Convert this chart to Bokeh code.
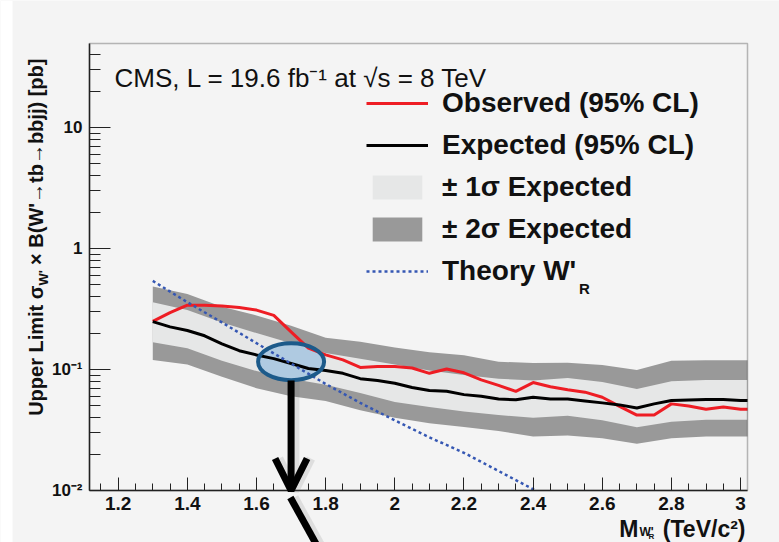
import math
from bokeh.plotting import figure
from bokeh.models import (Range1d, FixedTicker, CustomJSTickFormatter, Legend, LegendItem,
                          Label, Arrow, OpenHead, BoxAnnotation)
from bokeh.embed import file_html
from bokeh.resources import INLINE

# ---------------- data ----------------
mass = [1.30, 1.35, 1.40, 1.45, 1.50, 1.55, 1.60, 1.65, 1.70, 1.75, 1.80, 1.85, 1.90, 1.95,
        2.00, 2.05, 2.10, 2.15, 2.20, 2.25, 2.30, 2.35, 2.40, 2.45, 2.50, 2.55, 2.60, 2.65,
        2.70, 2.75, 2.80, 2.85, 2.90, 2.95, 3.00, 3.02]
observed = [0.25, 0.295, 0.34, 0.34, 0.335, 0.325, 0.31, 0.28, 0.205, 0.15, 0.132, 0.12, 0.104, 0.106,
            0.106, 0.103, 0.093, 0.101, 0.094, 0.082, 0.074, 0.066, 0.078, 0.072, 0.068, 0.065, 0.059, 0.0496,
            0.042, 0.042, 0.052, 0.050, 0.047, 0.049, 0.047, 0.047]
expected = [0.249, 0.225, 0.21, 0.19, 0.163, 0.143, 0.132, 0.123, 0.112, 0.102, 0.098, 0.093, 0.084, 0.081,
            0.077, 0.071, 0.067, 0.066, 0.062, 0.060, 0.057, 0.0562, 0.059, 0.057, 0.057, 0.055, 0.053, 0.051,
            0.048, 0.052, 0.0555, 0.056, 0.0565, 0.0565, 0.0555, 0.0555]

band_mass = [1.3, 1.4, 1.5, 1.6, 1.7, 1.8, 1.9, 2.0, 2.1, 2.2, 2.3, 2.4, 2.5, 2.6, 2.7, 2.8, 2.9, 3.0, 3.02]
exp_plus2 = [0.485, 0.42, 0.33, 0.28, 0.23, 0.183, 0.17, 0.152, 0.139, 0.131, 0.116, 0.113, 0.114, 0.109, 0.099, 0.118, 0.119, 0.119, 0.119]
exp_plus1 = [0.36, 0.31, 0.245, 0.20, 0.165, 0.137, 0.123, 0.11, 0.098, 0.09, 0.084, 0.081, 0.085, 0.079, 0.069, 0.08, 0.082, 0.082, 0.082]
exp_minus1 = [0.168, 0.15, 0.118, 0.097, 0.084, 0.075, 0.064, 0.054, 0.049, 0.045, 0.042, 0.040, 0.0415, 0.038, 0.0333, 0.037, 0.0385, 0.0385, 0.0385]
exp_minus2 = [0.12, 0.11, 0.087, 0.07, 0.06, 0.055, 0.046, 0.040, 0.036, 0.0335, 0.031, 0.028, 0.0285, 0.027, 0.0243, 0.027, 0.028, 0.028, 0.028]

theory_mass = [1.3, 1.4, 1.5, 1.6, 1.7, 1.8, 1.9, 2.0, 2.1, 2.2, 2.3, 2.41]
theory_xs = [0.54, 0.36, 0.245, 0.165, 0.112, 0.076, 0.053, 0.038, 0.0275, 0.0205, 0.0145, 0.0099]

x_major = [1.2, 1.4, 1.6, 1.8, 2.0, 2.2, 2.4, 2.6, 2.8, 3.0]
x_minor = [round(1.15 + 0.05 * i, 2) for i in range(38)]
y_major = [0.01, 0.1, 1, 10]
y_minor = [k * 10.0 ** e for e in range(-2, 2) for k in range(2, 10) if k * 10.0 ** e < 49.5]

# axis extent (ROOT frame) in data units
X_LO, X_HI = 1.117, 3.02
Y_LO, Y_HI = 0.01, 49.5

# annotation (ellipse + arrows) in data coordinates
mark_x, mark_y = 1.70, 0.116
arrow_y_start, arrow_y_end = 0.081, 0.01
lower_line = ([1.698, 1.78], [0.00875, 0.0033])

labels = {
    "cms": "CMS, L = 19.6 fb\u207b\u00b9 at \u221as = 8 TeV",
    "obs": "Observed (95% CL)",
    "exp": "Expected (95% CL)",
    "s1": "\u00b1 1\u03c3 Expected",
    "s2": "\u00b1 2\u03c3 Expected",
    "th": "Theory W'",
}

# ---------------- layout: bokeh frame = whole canvas, ROOT frame drawn inside ----------------
W, H = 779, 542
FL, FT, FR, FB = 89, 43, 747, 490   # ROOT frame in window pixels
FONT = "Liberation Sans"
BG = "#f4f4f4"
INK = "#111111"

sx = (X_HI - X_LO) / (FR - FL)
sy = (math.log10(Y_HI) - math.log10(Y_LO)) / (FB - FT)
x_range = Range1d(X_LO - FL * sx, X_HI + (W - FR) * sx)
y_range = Range1d(10 ** (math.log10(Y_LO) - (H - FB) * sy), 10 ** (math.log10(Y_HI) + FT * sy))

p = figure(width=W, height=H, y_axis_type="log", output_backend="svg", toolbar_location=None,
           x_range=x_range, y_range=y_range, min_border=0)
p.background_fill_color = BG
p.border_fill_color = BG
p.outline_line_color = None
p.xgrid.visible = False
p.ygrid.visible = False

# white strip at the left edge
p.add_layout(BoxAnnotation(left=0, right=12, left_units="screen", right_units="screen",
                           fill_color="white", fill_alpha=1, line_alpha=0, level="underlay"))

p.xaxis.ticker = FixedTicker(ticks=x_major, minor_ticks=x_minor)
p.yaxis.ticker = FixedTicker(ticks=y_major, minor_ticks=y_minor)
p.xaxis.formatter = CustomJSTickFormatter(code="return (Math.round(tick*10)/10).toString();")
p.yaxis.formatter = CustomJSTickFormatter(code="""
const e = Math.round(Math.log10(tick));
if (e == 0) return "1";
if (e == 1) return "10";
return e == -1 ? "10\u207b\u00b9" : "10\u207b\u00b2";
""")
p.xaxis.fixed_location = Y_LO
p.yaxis.fixed_location = X_LO
p.xaxis.bounds = (X_LO, X_HI)
p.yaxis.bounds = (Y_LO, Y_HI)
for ax in (p.xaxis, p.yaxis):
    ax.axis_line_color = "#222222"
    ax.axis_line_width = 1.5
    ax.major_tick_line_color = "#222222"
    ax.minor_tick_line_color = "#222222"
    ax.major_tick_out = 0
    ax.minor_tick_out = 0
    ax.major_label_text_font = FONT
    ax.major_label_text_font_style = "bold"
    ax.major_label_text_color = INK
p.xaxis.major_tick_in = 13
p.xaxis.minor_tick_in = 7
p.yaxis.major_tick_in = 21
p.yaxis.minor_tick_in = 11
p.xaxis.major_label_text_font_size = "19px"
p.yaxis.major_label_text_font_size = "17px"
p.xaxis.major_label_standoff = 6
p.yaxis.major_label_standoff = 7

# bands
r2 = p.varea(x=band_mass, y1=exp_minus2, y2=exp_plus2, fill_color="#999999")
r1 = p.varea(x=band_mass, y1=exp_minus1, y2=exp_plus1, fill_color="#e6e7e7")

# ellipse fill
p.ellipse(x=[mark_x], y=[mark_y], width=66, height=37, width_units="screen", height_units="screen",
          fill_color="#a9c7e0", fill_alpha=0.9, line_alpha=0)

ro = p.line(mass, observed, line_color="#ee1d24", line_width=3)
re = p.line(mass, expected, line_color="black", line_width=3)
rt = p.line(theory_mass, theory_xs, line_color="#3557b3", line_width=2.5, line_dash="3 3")

# ROOT frame border
p.add_layout(BoxAnnotation(left=X_LO, right=X_HI, bottom=Y_LO, top=Y_HI, fill_alpha=0,
                           line_color="#222222", line_width=1.5))

# ellipse outline
p.ellipse(x=[mark_x], y=[mark_y], width=66, height=37, width_units="screen", height_units="screen",
          fill_alpha=0, line_color="#1c5a8a", line_width=4)

# arrows
p.add_layout(Arrow(x_start=mark_x + 0.011, y_start=arrow_y_start, x_end=mark_x + 0.011, y_end=arrow_y_end,
                   line_color="#666666", line_alpha=0.15, line_width=9,
                   end=OpenHead(size=32, line_width=9, line_color="#666666", line_alpha=0.15)))
p.add_layout(Arrow(x_start=mark_x, y_start=arrow_y_start, x_end=mark_x, y_end=arrow_y_end,
                   line_color="black", line_width=7,
                   end=OpenHead(size=32, line_width=7, line_color="black")))
p.add_layout(Arrow(x_start=lower_line[0][0] + 0.011, y_start=lower_line[1][0], x_end=lower_line[0][1] + 0.011,
                   y_end=lower_line[1][1], line_color="#666666", line_alpha=0.15, line_width=9, end=None))
p.add_layout(Arrow(x_start=lower_line[0][0], y_start=lower_line[1][0], x_end=lower_line[0][1],
                   y_end=lower_line[1][1], line_color="black", line_width=7, end=None))

# legend
legend = Legend(items=[LegendItem(label=labels["obs"], renderers=[ro]),
                       LegendItem(label=labels["exp"], renderers=[re]),
                       LegendItem(label=labels["s1"], renderers=[r1]),
                       LegendItem(label=labels["s2"], renderers=[r2]),
                       LegendItem(label=labels["th"], renderers=[rt])],
                location=(366, H - 287), orientation="vertical",
                glyph_width=62, glyph_height=30, label_height=30, label_standoff=14, spacing=10,
                padding=0, margin=0, border_line_alpha=0, background_fill_alpha=0,
                label_text_font=FONT, label_text_font_style="bold", label_text_font_size="28px",
                label_text_color=INK)
p.add_layout(legend)


def lab(text, X, Y, size, style="normal", align="left", baseline="alphabetic", angle=0.0):
    p.add_layout(Label(x=X, y=H - Y, x_units="screen", y_units="screen", text=text,
                       text_font=FONT, text_font_size=size, text_font_style=style,
                       text_align=align, text_baseline=baseline, angle=angle,
                       text_color=INK))


lab(labels["cms"], 114, 77, "26px")
lab("R", 584, 288, "15px", "bold", "center", "middle")

# y axis title (rotated, with subscript)
lab("Upper Limit \u03c3", 35, 285, "20px", "bold", "right", "middle", math.pi / 2)
lab("W'", 43, 285, "13px", "bold", "left", "middle", math.pi / 2)
lab("\u00a0\u00d7 B(W'\u2192tb\u2192bbjj) [pb]", 35, 270, "20px", "bold", "left", "middle", math.pi / 2)

# x axis title
lab("(TeV/c\u00b2)", 745, 528, "23px", "bold", "right")
lab("M", 638, 528, "23px", "bold", "right")
lab("W'", 639, 531, "12px", "bold", "left")
lab("R", 648, 536, "8px", "bold", "left")

open("out.html", "w").write(file_html(p, INLINE))
